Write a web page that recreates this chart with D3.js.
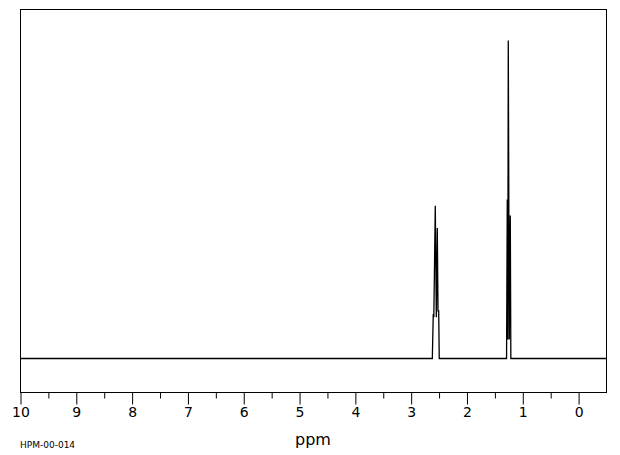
<!DOCTYPE html>
<html>
<head>
<meta charset="utf-8">
<script src="https://cdn.jsdelivr.net/npm/d3@7"></script>
<style>
  html, body { margin: 0; padding: 0; background: #fff; }
  svg { display: block; }
  text { font-family: "DejaVu Sans", sans-serif; fill: #000; }
</style>
</head>
<body>
<svg id="chart" width="620" height="455"></svg>
<script>
// ---- data ----
const majorTicks = [10, 9, 8, 7, 6, 5, 4, 3, 2, 1, 0];
const minorTicks = [9.5, 8.5, 7.5, 6.5, 5.5, 4.5, 3.5, 2.5, 1.5, 0.5];
// CH2 quartet: spectrum trace points [ppm, relative intensity]
const quartetPpm = [2.612, 2.595, 2.585, 2.559, 2.540, 2.523, 2.510, 2.498, 2.488];
const quartetInt = [0, 14, 13, 48, 13, 41, 15, 15, 0];
// CH3 triplet
const tripletPpm = [1.282, 1.269, 1.260, 1.251, 1.233, 1.215, 1.205];
const tripletInt = [0, 50, 6, 100, 6, 45, 0];
const xLabel = "ppm";
const sampleId = "HPM-00-014";

// ---- layout ----
const padL = 20, padR = 606, padT = 9, padB = 392, baseY = 358, peakTopY = 40;
const svg = d3.select("#chart");

const x = d3.scaleLinear().domain([10, -0.5]).range([padL, padR]);
const y = d3.scaleLinear().domain([0, 100]).range([baseY, peakTopY]);

// frame
svg.append("rect")
  .attr("x", padL + 0.5).attr("y", padT + 0.5)
  .attr("width", padR - padL).attr("height", padB - padT)
  .attr("fill", "none").attr("stroke", "#000").attr("stroke-width", 1);

// spectrum trace: baseline + multiplets
const trace = [[10, 0]]
  .concat(quartetPpm.map((p, i) => [p, quartetInt[i]]))
  .concat(tripletPpm.map((p, i) => [p, tripletInt[i]]))
  .concat([[-0.5, 0]]);
trace.sort((a, b) => b[0] - a[0]);
const line = d3.line().x(d => x(d[0])).y(d => y(d[1]) + 0.5);
svg.append("path")
  .attr("d", line(trace))
  .attr("fill", "none").attr("stroke", "#000").attr("stroke-width", 1.3);

// axis
const axisG = svg.append("g").attr("transform", `translate(0.5,${padB + 0.5})`);
axisG.call(d3.axisBottom(x).tickValues(majorTicks).tickSize(12).tickPadding(3)
  .tickFormat(d3.format("d")));
axisG.select(".domain").remove();
axisG.selectAll("text").attr("font-size", 14).attr("font-family", "DejaVu Sans, sans-serif");
axisG.selectAll("line").attr("stroke", "#000");
const minorG = svg.append("g").attr("transform", `translate(0.5,${padB + 0.5})`);
minorG.call(d3.axisBottom(x).tickValues(minorTicks).tickSize(6).tickFormat(""));
minorG.select(".domain").remove();
minorG.selectAll("line").attr("stroke", "#000");

// labels
svg.append("text").attr("x", (padL + padR) / 2).attr("y", 445)
  .attr("text-anchor", "middle").attr("font-size", 16).text(xLabel);
svg.append("text").attr("x", 20).attr("y", 448)
  .attr("font-size", 9).text(sampleId);
</script>
</body>
</html>
